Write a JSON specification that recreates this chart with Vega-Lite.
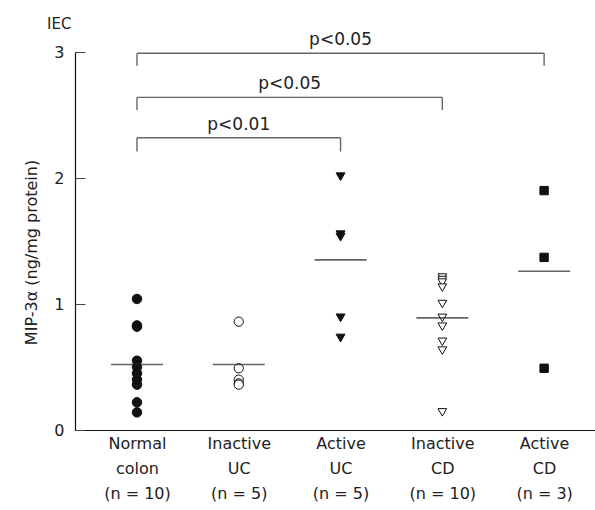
{
  "$schema": "https://vega.github.io/schema/vega-lite/v6.json",
  "width": 520,
  "height": 378,
  "autosize": {"type": "none"},
  "padding": {"left": 75, "top": 52, "right": 0, "bottom": 80},
  "background": "white",
  "title": {"text": "IEC", "anchor": "start", "frame": "group", "dx": -28, "offset": -1, "fontSize": 15, "fontWeight": "normal", "font": "DejaVu Sans", "color": "#222"},
  "config": {"view": {"stroke": null}, "font": "DejaVu Sans"},
  "datasets": {
    "groups": [
      {"group": "Normal colon", "k": 1},
      {"group": "Inactive UC", "k": 2},
      {"group": "Active UC", "k": 3},
      {"group": "Inactive CD", "k": 4},
      {"group": "Active CD", "k": 5}
    ],
    "pts": [
      {"group": "Normal colon", "value": 1.04},
      {"group": "Normal colon", "value": 0.83},
      {"group": "Normal colon", "value": 0.82},
      {"group": "Normal colon", "value": 0.55},
      {"group": "Normal colon", "value": 0.50},
      {"group": "Normal colon", "value": 0.45},
      {"group": "Normal colon", "value": 0.40},
      {"group": "Normal colon", "value": 0.36},
      {"group": "Normal colon", "value": 0.22},
      {"group": "Normal colon", "value": 0.14},
      {"group": "Inactive UC", "value": 0.86},
      {"group": "Inactive UC", "value": 0.49},
      {"group": "Inactive UC", "value": 0.40},
      {"group": "Inactive UC", "value": 0.37},
      {"group": "Inactive UC", "value": 0.36},
      {"group": "Active UC", "value": 2.01},
      {"group": "Active UC", "value": 1.55},
      {"group": "Active UC", "value": 1.53},
      {"group": "Active UC", "value": 0.89},
      {"group": "Active UC", "value": 0.73},
      {"group": "Inactive CD", "value": 1.21},
      {"group": "Inactive CD", "value": 1.19},
      {"group": "Inactive CD", "value": 1.17},
      {"group": "Inactive CD", "value": 1.13},
      {"group": "Inactive CD", "value": 1.00},
      {"group": "Inactive CD", "value": 0.89},
      {"group": "Inactive CD", "value": 0.82},
      {"group": "Inactive CD", "value": 0.70},
      {"group": "Inactive CD", "value": 0.63},
      {"group": "Inactive CD", "value": 0.14},
      {"group": "Active CD", "value": 1.90},
      {"group": "Active CD", "value": 1.37},
      {"group": "Active CD", "value": 0.49}
    ],
    "means": [
      {"group": "Normal colon", "value": 0.52},
      {"group": "Inactive UC", "value": 0.52},
      {"group": "Active UC", "value": 1.35},
      {"group": "Inactive CD", "value": 0.89},
      {"group": "Active CD", "value": 1.26}
    ],
    "brackets": [
      {"label": "p<0.01", "from": "Normal colon", "to": "Active UC", "top": 2.32, "bottom": 2.21},
      {"label": "p<0.05", "from": "Normal colon", "to": "Inactive CD", "top": 2.64, "bottom": 2.54},
      {"label": "p<0.05", "from": "Normal colon", "to": "Active CD", "top": 2.99, "bottom": 2.89}
    ]
  },
  "layer": [
    {
      "data": {"name": "pts"},
      "transform": [
        {"lookup": "group", "from": {"data": {"name": "groups"}, "key": "group", "fields": ["k"]}}
      ],
      "mark": {"type": "point", "filled": true, "stroke": "#111", "strokeWidth": 1, "opacity": 1},
      "encoding": {
        "x": {
          "field": "k", "type": "quantitative",
          "scale": {"domain": [0.391, 5.5], "nice": false, "zero": false},
          "axis": {
            "title": null, "ticks": false, "grid": false, "domainColor": "#111", "domainWidth": 1.2,
            "values": [1, 2, 3, 4, 5],
            "labelAngle": 0, "labelFontSize": 16, "labelColor": "#222", "labelPadding": 5, "labelLineHeight": 25, "labelBaseline": "top", "labelFlush": false, "labelOverlap": false,
            "labelExpr": "datum.value == 1 ? ['Normal', 'colon', '(n = 10)'] : datum.value == 2 ? ['Inactive', 'UC', '(n = 5)'] : datum.value == 3 ? ['Active', 'UC', '(n = 5)'] : datum.value == 4 ? ['Inactive', 'CD', '(n = 10)'] : ['Active', 'CD', '(n = 3)']"
          }
        },
        "y": {
          "field": "value", "type": "quantitative",
          "scale": {"domain": [0, 3], "nice": false, "zero": true},
          "axis": {
            "title": "MIP-3α (ng/mg protein)", "titleFontSize": 16, "titleFontWeight": "normal", "titleColor": "#222", "titlePadding": 14, "titleY": 200,
            "values": [0, 1, 2, 3], "format": "d", "grid": false, "domainColor": "#111", "domainWidth": 1.2,
            "tickSize": -10, "tickColor": "#444", "tickWidth": 1, "labelPadding": 21, "labelFontSize": 16, "labelColor": "#222"
          }
        },
        "shape": {"field": "group", "type": "nominal", "legend": null,
          "scale": {"domain": ["Normal colon", "Inactive UC", "Active UC", "Inactive CD", "Active CD"], "range": ["circle", "circle", "triangle-down", "triangle-down", "square"]}},
        "fill": {"field": "group", "type": "nominal", "legend": null,
          "scale": {"domain": ["Normal colon", "Inactive UC", "Active UC", "Inactive CD", "Active CD"], "range": ["#111", "#ffffff", "#111", "#ffffff", "#111"]}},
        "size": {"field": "group", "type": "nominal", "legend": null,
          "scale": {"domain": ["Normal colon", "Inactive UC", "Active UC", "Inactive CD", "Active CD"], "range": [90, 70, 90, 80, 95]}}
      }
    },
    {
      "data": {"name": "means"},
      "transform": [
        {"lookup": "group", "from": {"data": {"name": "groups"}, "key": "group", "fields": ["k"]}}
      ],
      "mark": {"type": "tick", "orient": "horizontal", "size": 52, "thickness": 1.6, "color": "#222"},
      "encoding": {
        "x": {"field": "k", "type": "quantitative"},
        "y": {"field": "value", "type": "quantitative"}
      }
    },
    {
      "data": {"name": "brackets"},
      "transform": [
        {"lookup": "from", "from": {"data": {"name": "groups"}, "key": "group", "fields": ["k"]}, "as": ["k_from"]},
        {"lookup": "to", "from": {"data": {"name": "groups"}, "key": "group", "fields": ["k"]}, "as": ["k_to"]}
      ],
      "layer": [
        {
          "mark": {"type": "rule", "color": "#666", "strokeWidth": 1.4},
          "encoding": {
            "x": {"field": "k_from", "type": "quantitative"},
            "x2": {"field": "k_to"},
            "y": {"field": "top", "type": "quantitative"}
          }
        },
        {
          "mark": {"type": "rule", "color": "#666", "strokeWidth": 1.4},
          "encoding": {
            "x": {"field": "k_from", "type": "quantitative"},
            "y": {"field": "top", "type": "quantitative"},
            "y2": {"field": "bottom"}
          }
        },
        {
          "mark": {"type": "rule", "color": "#666", "strokeWidth": 1.4},
          "encoding": {
            "x": {"field": "k_to", "type": "quantitative"},
            "y": {"field": "top", "type": "quantitative"},
            "y2": {"field": "bottom"}
          }
        },
        {
          "transform": [
            {"fold": ["k_from", "k_to"], "as": ["end", "kk"]},
            {"aggregate": [{"op": "mean", "field": "kk", "as": "kmid"}], "groupby": ["label", "top"]}
          ],
          "mark": {"type": "text", "fontSize": 17, "color": "#222", "baseline": "alphabetic", "align": "center", "dy": -8},
          "encoding": {
            "x": {"field": "kmid", "type": "quantitative"},
            "y": {"field": "top", "type": "quantitative"},
            "text": {"field": "label"}
          }
        }
      ]
    }
  ]
}
